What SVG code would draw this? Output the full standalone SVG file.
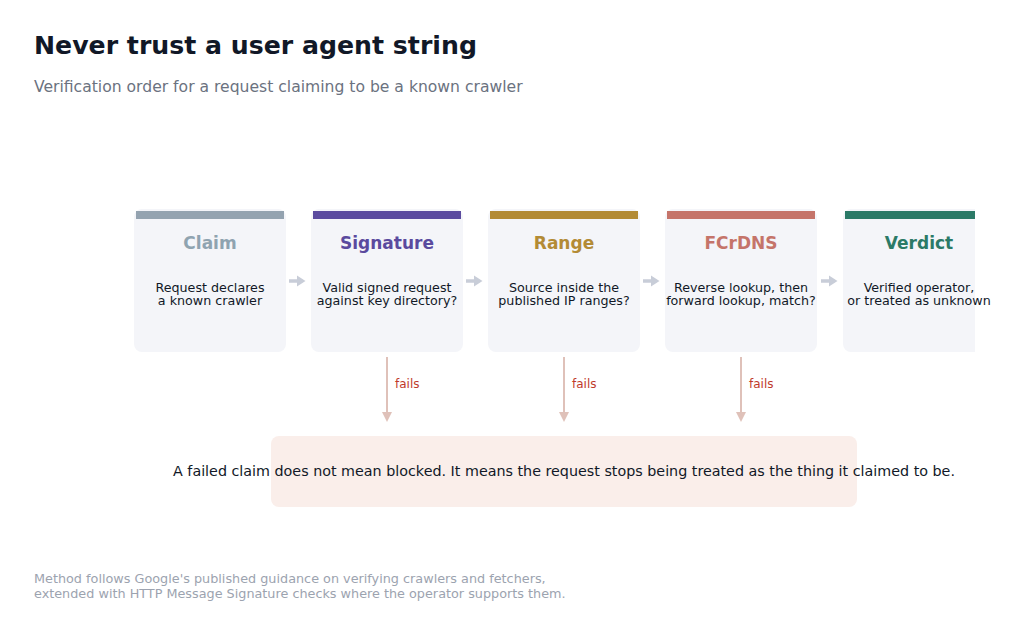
<svg xmlns="http://www.w3.org/2000/svg" width="1024" height="635" viewBox="0 0 1024 635">
<style>
text{font-family:"DejaVu Sans","Liberation Sans",sans-serif}
.title{font-size:25.2px;font-weight:bold;fill:#111827}
.sub{font-size:15.6px;fill:#6b7280}
.foot{font-size:12.8px;fill:#9ca3af}
.card{fill:#f4f5f9}
.ct{font-size:17px;font-weight:bold;text-anchor:middle}
.cb{font-size:12.7px;fill:#111827;text-anchor:middle}
.flow{stroke:#c8cdd8;stroke-width:3.5;fill:none}
.flowh{fill:#c8cdd8}
.fail{stroke:#dfc1b9;stroke-width:2;fill:none}
.failh{fill:#dfc1b9}
.fl{font-size:12px;fill:#c0392b}
.note{font-size:14.3px;fill:#111827;text-anchor:middle}
</style>
<defs>
<clipPath id="vc"><rect x="0" y="0" width="975" height="635"/></clipPath>
</defs>
<rect width="1024" height="635" fill="#ffffff"/>
<text class="title" x="34" y="54">Never trust a user agent string</text>
<text class="sub" x="34" y="92">Verification order for a request claiming to be a known crawler</text>

<g id="claim">
<rect class="card" x="134" y="209" width="152" height="143" rx="8"/>
<rect x="136" y="211" width="148" height="8" fill="#94a3b0"/>
<text class="ct" x="210" y="249" fill="#8fa3b0">Claim</text>
<text class="cb" x="210" y="292">Request declares</text>
<text class="cb" x="210" y="305">a known crawler</text>
</g>
<g id="signature">
<rect class="card" x="311" y="209" width="152" height="143" rx="8"/>
<rect x="313" y="211" width="148" height="8" fill="#5b4b9f"/>
<text class="ct" x="387" y="249" fill="#5a4a9e">Signature</text>
<text class="cb" x="387" y="292">Valid signed request</text>
<text class="cb" x="387" y="305">against key directory?</text>
</g>
<g id="range">
<rect class="card" x="488" y="209" width="152" height="143" rx="8"/>
<rect x="490" y="211" width="148" height="8" fill="#b38b35"/>
<text class="ct" x="564" y="249" fill="#b38b35">Range</text>
<text class="cb" x="564" y="292">Source inside the</text>
<text class="cb" x="564" y="305">published IP ranges?</text>
</g>
<g id="fcrdns">
<rect class="card" x="665" y="209" width="152" height="143" rx="8"/>
<rect x="667" y="211" width="148" height="8" fill="#c5746a"/>
<text class="ct" x="741" y="249" fill="#c5746a">FCrDNS</text>
<text class="cb" x="741" y="292">Reverse lookup, then</text>
<text class="cb" x="741" y="305">forward lookup, match?</text>
</g>
<g id="verdict">
<g clip-path="url(#vc)">
<rect class="card" x="843" y="209" width="152" height="143" rx="8"/>
<rect x="845" y="211" width="148" height="8" fill="#2b7a67"/>
</g>
<text class="ct" x="919" y="249" fill="#2b7a67">Verdict</text>
<text class="cb" x="919" y="292">Verified operator,</text>
<text class="cb" x="919" y="305">or treated as unknown</text>
</g>

<g id="connectors">
<line class="flow" x1="289" y1="281" x2="298" y2="281"/><path class="flowh" d="M297,275.5 L305.5,281 L297,286.5 z"/>
<line class="flow" x1="466" y1="281" x2="475" y2="281"/><path class="flowh" d="M474,275.5 L482.5,281 L474,286.5 z"/>
<line class="flow" x1="643" y1="281" x2="652" y2="281"/><path class="flowh" d="M651,275.5 L659.5,281 L651,286.5 z"/>
<line class="flow" x1="821" y1="281" x2="830" y2="281"/><path class="flowh" d="M829,275.5 L837.5,281 L829,286.5 z"/>
<line class="fail" x1="387" y1="357" x2="387" y2="413"/><path class="failh" d="M382,412 L387,422 L392,412 z"/>
<line class="fail" x1="564" y1="357" x2="564" y2="413"/><path class="failh" d="M559,412 L564,422 L569,412 z"/>
<line class="fail" x1="741" y1="357" x2="741" y2="413"/><path class="failh" d="M736,412 L741,422 L746,412 z"/>
<text class="fl" x="395" y="388">fails</text>
<text class="fl" x="572" y="388">fails</text>
<text class="fl" x="749" y="388">fails</text>
</g>

<g id="note">
<rect x="271" y="436" width="586" height="71" rx="8" fill="#faeeea"/>
<text class="note" x="564" y="476">A failed claim does not mean blocked. It means the request stops being treated as the thing it claimed to be.</text>
</g>

<text class="foot" x="34" y="583">Method follows Google's published guidance on verifying crawlers and fetchers,</text>
<text class="foot" x="34" y="598">extended with HTTP Message Signature checks where the operator supports them.</text>
</svg>
